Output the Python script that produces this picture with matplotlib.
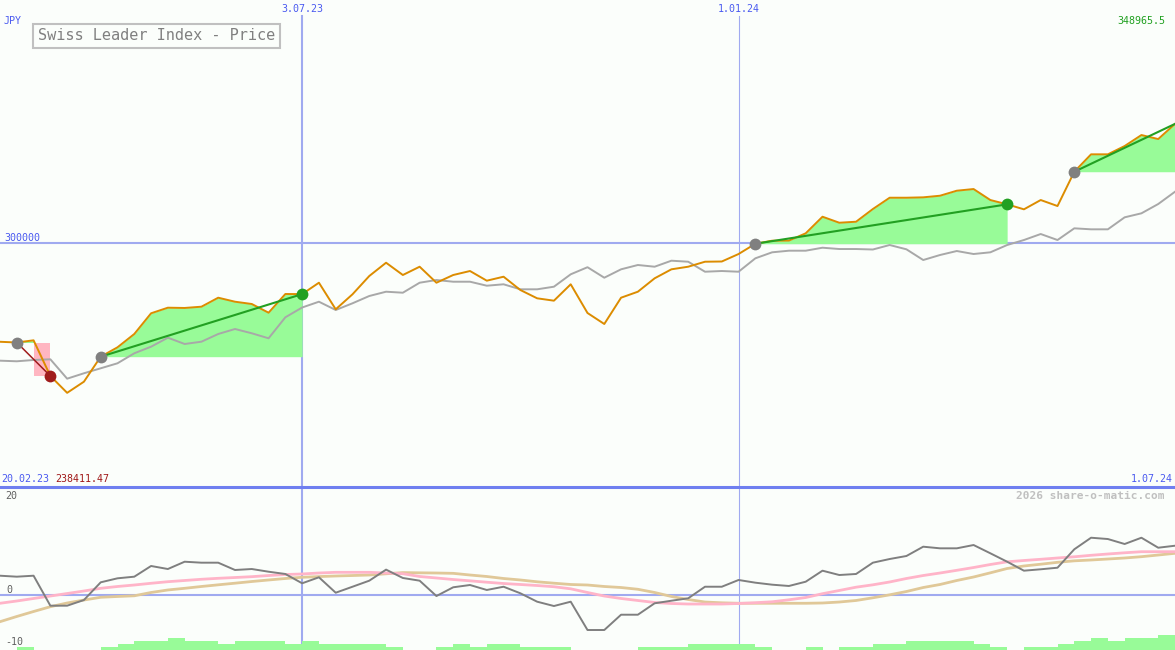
import numpy as np
import pandas as pd
import matplotlib
matplotlib.use('Agg')
import matplotlib.pyplot as plt
from matplotlib.lines import Line2D
from matplotlib.transforms import blended_transform_factory

# weekly closes, 27.02.23 .. 1.07.24
dates = pd.date_range('2023-02-27', periods=71, freq='W-MON')

price = [259400, 259100, 260000, 245340, 238411.47, 242990, 253270, 257130, 262600, 271110,
         273410, 273300, 273820, 277520, 275870, 274930, 271350, 279040, 279000, 283680,
         272750, 278920, 286440, 291900, 286850, 290260, 283680, 286850, 288490, 284510,
         286150, 280680, 277270, 276290, 283030, 271230, 266710, 277520, 279980, 285490,
         289190, 290260, 292310, 292400, 295480, 299700, 300950, 301000, 303990, 310810,
         308340, 308750, 313970, 318620, 318620, 318780, 319440, 321500, 322190, 317670,
         315900, 313850, 317670, 315200, 329300, 336460, 336460, 339870, 344390, 342740,
         348965.5]

compare = [251630, 251380, 251910, 252200, 244230, 246450, 248500, 250560, 254670, 257380,
           261080, 258490, 259430, 262600, 264650, 262890, 260830, 269460, 273490, 275870,
           272460, 275220, 278220, 279980, 279570, 283680, 284790, 284090, 284090, 282450,
           283030, 280970, 280970, 282040, 287140, 290050, 285740, 289190, 290960, 290260,
           292730, 292310, 288200, 288490, 288200, 293710, 296180, 296840, 296840, 298070,
           297530, 297530, 297330, 299180, 297410, 293010, 295070, 296710, 295480, 296180,
           299180, 301230, 303700, 301230, 306040, 305630, 305630, 310560, 312210, 316030,
           321080]

momentum = [4.15, 3.94, 4.15, -2.30, -2.30, -1.08, 2.73, 3.59, 3.94, 6.24,
            5.59, 7.16, 6.95, 6.95, 5.38, 5.59, 5.01, 4.52, 2.52, 3.81,
            0.49, 1.78, 3.08, 5.46, 3.66, 3.08, -0.22, 1.66, 2.15, 1.08,
            1.78, 0.37, -1.44, -2.37, -1.44, -7.53, -7.53, -4.24, -4.24, -1.78,
            -1.23, -0.71, 1.78, 1.78, 3.23, 2.65, 2.22, 1.94, 2.86, 5.23,
            4.30, 4.52, 6.95, 7.74, 8.39, 10.39, 10.04, 10.04, 10.75, 8.97,
            7.16, 5.23, 5.53, 5.87, 9.83, 12.32, 12.04, 10.97, 12.32, 10.17,
            10.60]

avg_fast = [-1.78, -1.29, -0.75, -0.22, 0.32, 0.86, 1.44, 1.83, 2.15, 2.52,
            2.86, 3.12, 3.38, 3.59, 3.76, 3.94, 4.19, 4.41, 4.52, 4.73,
            4.88, 4.88, 4.88, 4.73, 4.58, 3.98, 3.66, 3.33, 3.05, 2.75,
            2.47, 2.26, 2.04, 1.78, 1.33, 0.54, -0.22, -0.75, -1.18, -1.61,
            -1.83, -1.94, -1.94, -1.94, -1.83, -1.66, -1.46, -1.03, -0.54, 0.28,
            0.97, 1.68, 2.19, 2.80, 3.55, 4.19, 4.73, 5.31, 5.91, 6.56,
            7.14, 7.42, 7.68, 7.96, 8.22, 8.54, 8.82, 9.08, 9.31, 9.31,
            9.31]

avg_slow = [-5.74, -4.62, -3.55, -2.52, -1.72, -1.08, -0.49, -0.32, -0.17, 0.54,
            1.08, 1.44, 1.83, 2.19, 2.54, 2.90, 3.23, 3.55, 3.81, 3.96,
            4.09, 4.19, 4.30, 4.56, 4.82, 4.77, 4.73, 4.66, 4.30, 3.98,
            3.55, 3.23, 2.84, 2.54, 2.26, 2.15, 1.83, 1.61, 1.23, 0.54,
            -0.32, -0.97, -1.51, -1.68, -1.78, -1.78, -1.78, -1.78, -1.78, -1.72,
            -1.51, -1.18, -0.60, 0.04, 0.75, 1.61, 2.26, 3.12, 3.87, 4.77,
            5.70, 6.24, 6.62, 7.03, 7.35, 7.53, 7.74, 7.96, 8.24, 8.60,
            8.97]

# bar level for each week (week i .. i+1)
volume_level = [0, 1, 0, 0, 0, 0, 1, 2, 3, 3, 4, 3, 3, 2, 3, 3, 3, 2, 3, 2,
                2, 2, 2, 1, 0, 0, 1, 2, 1, 2, 2, 1, 1, 1, 0, 0, 0, 0, 1, 1,
                1, 2, 2, 2, 2, 1, 0, 0, 1, 0, 1, 1, 2, 2, 3, 3, 3, 3, 2, 1,
                0, 1, 1, 2, 3, 4, 3, 4, 4, 5]

# signals: (start week, end week)
up_trends = [(6, 18), (45, 60), (64, 70)]
down_trends = [(1, 3)]

bg = '#fbfefb'
mono = 'DejaVu Sans Mono'
W, H = 1175, 650

fig = plt.figure(figsize=(11.75, 6.5), dpi=100)
fig.patch.set_facecolor(bg)
ax = fig.add_axes([0, 163 / H, 1, 487 / H])
ax2 = fig.add_axes([0, 0, 1, 161 / H])
ax3 = ax2.twinx()

for a in (ax, ax2, ax3):
    a.set_facecolor(bg)
    a.set_xticks([])
    a.set_yticks([])
    for s in a.spines.values():
        s.set_visible(False)
ax3.patch.set_visible(False)

ax.set_xlim(dates[0], dates[-1])
ax2.set_xlim(dates[0], dates[-1])
ax.set_ylim(199700, 399900)
ax2.set_ylim(-11.83, 22.8)
ax3.set_ylim(0, 161 / 3)

# grid lines
ax.axhline(300000, color='#a0aaf0', lw=1.5, zorder=1)
ax.axvline(dates[18], ymax=0.967, color='#a0aaf0', lw=1.5, zorder=1)
ax.axvline(dates[44], ymax=0.967, color='#a0aaf0', lw=0.8, zorder=1)
ax2.axhline(0, color='#a0aaf0', lw=1.5, zorder=1)
ax2.axvline(dates[18], color='#a0aaf0', lw=1.5, zorder=1)
ax2.axvline(dates[44], color='#a0aaf0', lw=0.8, zorder=1)

price = np.array(price)

# fills
for s, e in up_trends:
    ax.fill_between(dates[s:e + 1], price[s], price[s:e + 1],
                    where=price[s:e + 1] >= price[s], interpolate=True,
                    color='#98fb98', lw=0, zorder=2)
for s, e in down_trends:
    ax.fill_between(dates[s:s + 2], price[s], price[s:s + 2],
                    where=price[s:s + 2] >= price[s], interpolate=True,
                    color='#98fb98', lw=0, zorder=2)
    ax.fill_between(dates[e - 1:e + 1], price[s], price[e],
                    color='#ffb6c1', lw=0, zorder=2)

ax.plot(dates, compare, color='#a8a8a8', lw=1.4, zorder=3)
ax.plot(dates, price, color='#dc8c00', lw=1.4, zorder=4)

for s, e in up_trends:
    ax.plot([dates[s], dates[e]], [price[s], price[e]], color='#22a022', lw=1.5, zorder=5)
    ax.plot(dates[s], price[s], 'o', ms=8.5, color='#808080', mec='none', zorder=6)
    if e < len(price) - 1:
        ax.plot(dates[e], price[e], 'o', ms=8.5, color='#22a022', mec='none', zorder=6)
for s, e in down_trends:
    ax.plot([dates[s], dates[e]], [price[s], price[e]], color='#a01c1c', lw=1.1, zorder=5)
    ax.plot(dates[s], price[s], 'o', ms=8.5, color='#808080', mec='none', zorder=6)
    ax.plot(dates[e], price[e], 'o', ms=8.5, color='#a01c1c', mec='none', zorder=6)

# lower panel
ax3.bar(dates[:-1], volume_level, width=7, align='edge', color='#98fb98', lw=0, zorder=1)
ax2.plot(dates, avg_slow, color='#e0c898', lw=2, zorder=3)
ax2.plot(dates, avg_fast, color='#ffb4c8', lw=2, zorder=3)
ax2.plot(dates, momentum, color='#7f7f7f', lw=1.4, zorder=4)

# separator
fig.add_artist(Line2D([0, 1], [163 / H, 163 / H], color='#6f7ff0', lw=2.2))

def px(x, y):
    return x / W, 1 - y / H

blue = '#4a5af0'
fs = 7.2
fig.text(*px(4, 21), 'JPY', color=blue, family=mono, fontsize=fs, va='center')
tr = blended_transform_factory(ax.transData, fig.transFigure)
for i in (18, 44):
    ax.text(dates[i], 1 - 9 / H, f'{dates[i].day}.{dates[i]:%m.%y}', transform=tr,
            color=blue, family=mono, fontsize=fs, ha='center', va='center')
fig.text(*px(1165, 21), f'{max(price):.1f}', color='#20a020', family=mono, fontsize=fs,
         ha='right', va='center')
fig.text(*px(4, 238), '300000', color=blue, family=mono, fontsize=fs, va='center')
fig.text(*px(1, 479), '20.02.23', color=blue, family=mono, fontsize=fs, va='center')
fig.text(*px(55, 479), f'{min(price):.2f}', color='#a01818', family=mono, fontsize=fs,
         va='center')
fig.text(*px(1173, 479), f'{dates[-1].day}.{dates[-1]:%m.%y}', color=blue, family=mono,
         fontsize=fs, ha='right', va='center')
fig.text(*px(1164, 496), '2026 share-o-matic.com', color='#c0c0c0', family=mono,
         fontsize=8, fontweight='bold', ha='right', va='center')
fig.text(*px(5, 496), '20', color='#606060', family=mono, fontsize=fs, va='center')
fig.text(*px(6, 590), '0', color='#606060', family=mono, fontsize=fs, va='center')
fig.text(*px(5, 642), '-10', color='#606060', family=mono, fontsize=fs, va='center')

fig.text(*px(38, 36), 'Swiss Leader Index - Price', color='#808080', family=mono,
         fontsize=11, va='center',
         bbox=dict(boxstyle='square,pad=0.3', fc=bg, ec='#c0c0c0', lw=1.5))

fig.savefig('out.png', dpi=100, facecolor=bg)
